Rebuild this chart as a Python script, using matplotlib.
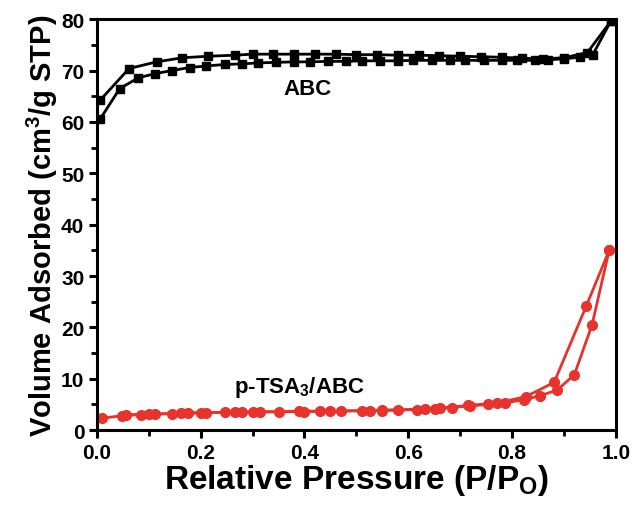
import numpy as np
import matplotlib
matplotlib.use('Agg')
import matplotlib.pyplot as plt
from matplotlib.ticker import MultipleLocator

plt.rcParams['font.family'] = ['Liberation Sans', 'DejaVu Sans']
plt.rcParams['font.weight'] = 'bold'
plt.rcParams['mathtext.default'] = 'regular'

# ABC isotherm, adsorption branch
abc_ads_x = [0.006, 0.044, 0.08, 0.112, 0.144, 0.179, 0.211, 0.247, 0.279, 0.311,
             0.345, 0.38, 0.41, 0.445, 0.48, 0.51, 0.545, 0.58, 0.61, 0.645,
             0.68, 0.71, 0.745, 0.78, 0.81, 0.845, 0.87, 0.9, 0.93, 0.955, 0.99]
abc_ads_y = [60.5, 66.5, 68.6, 69.4, 70.0, 70.6, 70.9, 71.2, 71.3, 71.5,
             71.6, 71.7, 71.7, 71.8, 71.8, 71.9, 71.9, 71.9, 72.0, 72.0,
             72.0, 72.0, 72.0, 72.0, 72.0, 72.0, 72.1, 72.3, 72.6, 73.0, 79.6]
# ABC isotherm, desorption branch
abc_des_x = [0.99, 0.945, 0.9, 0.86, 0.82, 0.78, 0.74, 0.70, 0.66, 0.62,
             0.58, 0.54, 0.50, 0.46, 0.42, 0.38, 0.34, 0.30, 0.266, 0.215,
             0.165, 0.115, 0.062, 0.006]
abc_des_y = [79.6, 73.5, 72.5, 72.3, 72.4, 72.6, 72.7, 72.8, 72.9, 73.0,
             73.0, 73.1, 73.1, 73.2, 73.2, 73.2, 73.2, 73.2, 73.0, 72.8,
             72.5, 71.7, 70.4, 64.2]

# p-TSA3/ABC isotherm
tsa_ads_x = [0.009, 0.048, 0.086, 0.112, 0.144, 0.176, 0.211, 0.247, 0.279, 0.314,
             0.35, 0.39, 0.43, 0.47, 0.51, 0.55, 0.58, 0.617, 0.651, 0.684,
             0.719, 0.753, 0.786, 0.822, 0.854, 0.887, 0.920, 0.954, 0.987]
tsa_ads_y = [2.3, 2.8, 3.0, 3.1, 3.2, 3.3, 3.4, 3.5, 3.5, 3.6,
             3.6, 3.7, 3.7, 3.7, 3.8, 3.8, 3.9, 4.0, 4.2, 4.4,
             4.7, 5.0, 5.3, 5.9, 6.7, 7.8, 10.8, 20.5, 35.0]
tsa_des_x = [0.987, 0.943, 0.881, 0.826, 0.771, 0.715, 0.661, 0.632, 0.549, 0.526,
             0.45, 0.4, 0.3, 0.266, 0.2, 0.163, 0.1, 0.057]
tsa_des_y = [35.0, 24.2, 9.3, 6.5, 5.3, 4.8, 4.3, 4.1, 3.9, 3.8,
             3.7, 3.6, 3.5, 3.5, 3.4, 3.3, 3.1, 3.0]

red = '#e8322c'

fig = plt.figure(figsize=(6.33, 5.06), dpi=100)
ax = fig.add_axes([0.153, 0.148, 0.82, 0.812])

ax.plot(abc_ads_x, abc_ads_y, color='black', lw=2, marker='s', ms=6)
ax.plot(abc_des_x, abc_des_y, color='black', lw=2, marker='s', ms=6)
ax.plot(tsa_ads_x, tsa_ads_y, color=red, lw=2, marker='o', ms=7)
ax.plot(tsa_des_x, tsa_des_y, color=red, lw=2, marker='o', ms=7)

ax.text(0.405, 66.5, 'ABC', fontsize=16, fontweight='bold', ha='center', va='center')
ax.text(0.39, 8.5, 'p-TSA$_3$/ABC', fontsize=16, fontweight='bold', ha='center', va='center')

ax.set_xlim(0, 1.0)
ax.set_ylim(0, 80)
ax.xaxis.set_major_locator(MultipleLocator(0.2))
ax.xaxis.set_minor_locator(MultipleLocator(0.1))
ax.yaxis.set_major_locator(MultipleLocator(10))
ax.yaxis.set_minor_locator(MultipleLocator(5))
ax.xaxis.set_major_formatter(matplotlib.ticker.FormatStrFormatter('%.1f'))

for s in ax.spines.values():
    s.set_linewidth(2.2)
ax.tick_params(which='major', direction='out', length=6, width=2.2, labelsize=15, pad=3)
ax.tick_params(which='minor', direction='out', length=4, width=2)
for lab in ax.get_xticklabels() + ax.get_yticklabels():
    lab.set_fontweight('bold')

ax.set_xlabel('Relative Pressure (P/P$_O$)', fontsize=24, fontweight='bold', labelpad=0)
ax.set_ylabel('Volume Adsorbed (cm$^3$/g STP)', fontsize=21, fontweight='bold', labelpad=1)

fig.savefig('out.png', dpi=100)
